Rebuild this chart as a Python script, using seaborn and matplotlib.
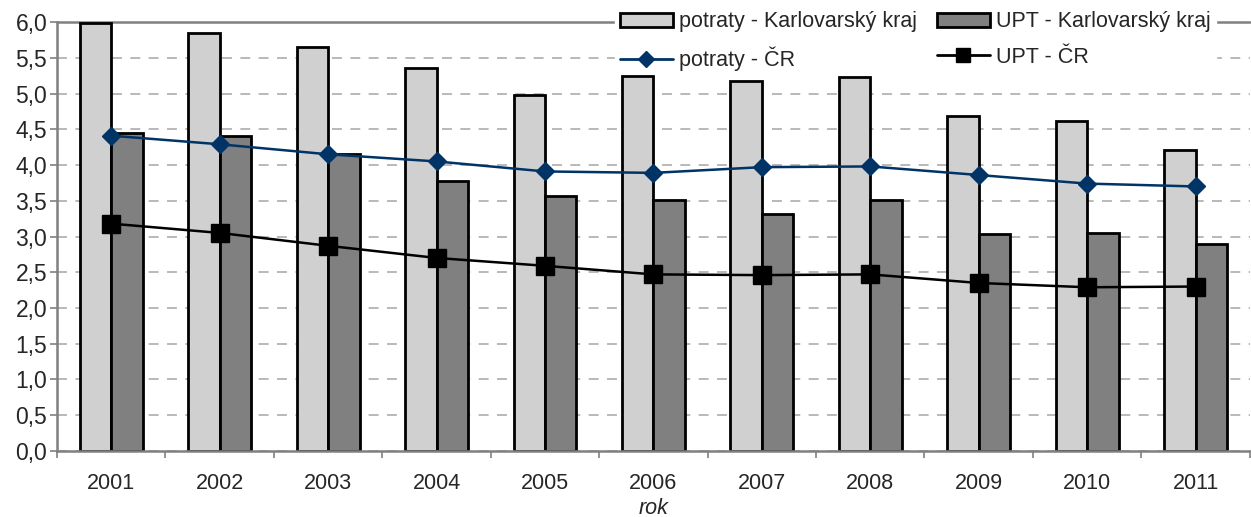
import pandas as pd
import matplotlib
matplotlib.use("Agg")
import matplotlib.pyplot as plt
import seaborn as sns
from matplotlib.patches import Patch
from matplotlib.lines import Line2D
from matplotlib.ticker import FuncFormatter

# ── Data ────────────────────────────────────────────────────────────────────
years = ["2001", "2002", "2003", "2004", "2005", "2006",
         "2007", "2008", "2009", "2010", "2011"]
potraty_kk = [5.98, 5.85, 5.65, 5.35, 4.98, 5.24, 5.18, 5.23, 4.68, 4.62, 4.21]
upt_kk     = [4.45, 4.40, 4.16, 3.77, 3.56, 3.51, 3.32, 3.51, 3.04, 3.05, 2.90]
potraty_cr = [4.41, 4.29, 4.15, 4.05, 3.91, 3.89, 3.97, 3.98, 3.86, 3.74, 3.70]
upt_cr     = [3.18, 3.05, 2.87, 2.70, 2.59, 2.47, 2.46, 2.47, 2.35, 2.29, 2.30]

LAB_PKK = "potraty - Karlovarský kraj"
LAB_UKK = "UPT - Karlovarský kraj"
LAB_PCR = "potraty - ČR"
LAB_UCR = "UPT - ČR"

LIGHT = "#d0d0d0"
DARK = "#808080"
NAVY = "#003366"
AXIS = "#808080"
FS = 15.5
EDGE_LW = 2.0

bars = pd.DataFrame({
    "rok": years * 2,
    "hodnota": potraty_kk + upt_kk,
    "serie": [LAB_PKK] * len(years) + [LAB_UKK] * len(years),
})

sns.set_style("white")
plt.rcParams["font.family"] = ["Liberation Sans", "DejaVu Sans"]

fig = plt.figure(figsize=(12.51, 5.17), dpi=100)
ax = fig.add_axes([0.0456, 0.1277, 0.9534, 0.8297])

sns.barplot(data=bars, x="rok", y="hodnota", hue="serie",
            palette={LAB_PKK: LIGHT, LAB_UKK: DARK},
            width=0.58, edgecolor="black", linewidth=EDGE_LW,
            legend=False, ax=ax, zorder=2)

ax.plot(range(len(years)), potraty_cr, color=NAVY, lw=1.8,
        marker="D", ms=9, zorder=4)
ax.plot(range(len(years)), upt_cr, color="black", lw=1.8,
        marker="s", ms=13, zorder=4)

ax.set_ylim(0, 6)
ax.set_xlim(-0.5, len(years) - 0.5)
ax.set_yticks([i * 0.5 for i in range(13)])
ax.yaxis.set_major_formatter(FuncFormatter(lambda v, p: f"{v:.1f}".replace(".", ",")))
ax.set_xticks(range(len(years)))
ax.set_xticklabels(years)
ax.set_xticks([i - 0.5 for i in range(len(years) + 1)], minor=True)

ax.grid(axis="y", color="#a6a6a6", linestyle=(0, (6.5, 5.5)), linewidth=1.1)
ax.set_axisbelow(True)
for s in ["left", "bottom"]:
    ax.spines[s].set_color(AXIS)
    ax.spines[s].set_linewidth(1.8)
ax.spines["right"].set_visible(False)
ax.spines["top"].set_visible(False)
# top border drawn low so the legend box can hide part of it
ax.axhline(6, color=AXIS, lw=1.8, zorder=1, clip_on=False)

ax.tick_params(axis="y", which="major", length=5, width=1.2, color=AXIS,
               direction="out", labelsize=16.5, pad=2, left=True)
ax.tick_params(axis="x", which="major", length=0, labelsize=FS, pad=16)
ax.tick_params(axis="x", which="minor", length=5, width=1.2, color=AXIS,
               direction="out", bottom=True)

ax.set_xlabel("rok", fontsize=FS, style="italic", labelpad=3)
ax.set_ylabel("")

handles = [
    Patch(facecolor=LIGHT, edgecolor="black", linewidth=EDGE_LW),
    Line2D([], [], color=NAVY, lw=2, marker="D", ms=8),
    Patch(facecolor=DARK, edgecolor="black", linewidth=EDGE_LW),
    Line2D([], [], color="black", lw=2, marker="s", ms=10),
]
labels = [LAB_PKK, LAB_PCR, LAB_UKK, LAB_UCR]
leg = ax.legend(handles, labels, ncol=2, loc="upper left",
                bbox_to_anchor=(0.4913, 0.9884), bbox_transform=fig.transFigure,
                fontsize=FS, frameon=True, facecolor="white", edgecolor="white",
                framealpha=1, fancybox=False, handlelength=2.46,
                handleheight=0.65, handletextpad=0.28, columnspacing=0.93,
                labelspacing=0.67, borderpad=0.25, borderaxespad=0)
leg.set_zorder(1.5)

fig.savefig("out.png", dpi=100)
